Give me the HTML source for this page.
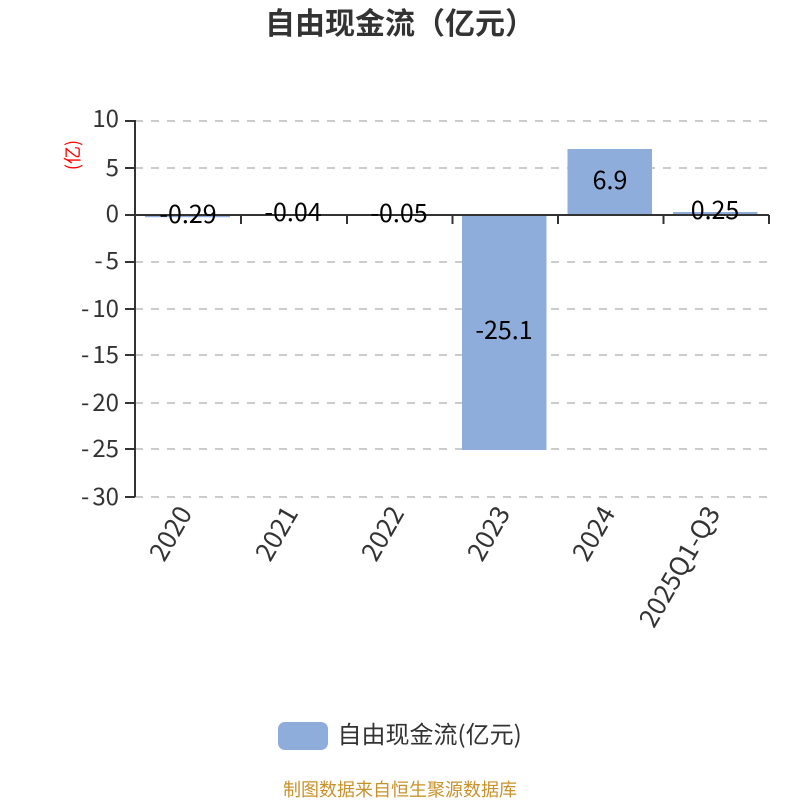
<!DOCTYPE html>
<html><head><meta charset="utf-8"><style>
html,body{margin:0;padding:0;background:#fff;width:800px;height:800px;overflow:hidden}
svg{display:block;font-family:"Noto Sans CJK SC",sans-serif}
</style></head><body>
<svg width="800" height="800" viewBox="0 0 800 800" xmlns="http://www.w3.org/2000/svg">
<text x="400" y="34" text-anchor="middle" font-size="30" font-weight="700" fill="#333">自由现金流（亿元）</text>
<g stroke="#ccc" stroke-width="2" stroke-dasharray="8 8" fill="none">
<path d="M135 121H769M135 168H769M135 262H769M135 309H769M135 355H769M135 403H769M135 449H769M135 497H769"/>
</g>
<g fill="#8eaddb">
<rect x="145" y="214.5" width="85" height="2.7"/>
<rect x="251" y="214" width="85" height="1"/>
<rect x="356.500" y="214" width="85" height="1"/>
<rect x="462" y="214.5" width="84.500" height="235.500"/>
<rect x="567.500" y="149" width="84.500" height="65.500"/>
<rect x="673" y="212" width="84.500" height="2.500"/>
</g>
<g stroke="#333" stroke-width="2" fill="none">
<path d="M135 120V497"/>
<path d="M125 121H135M125 168H135M125 215H135M125 262H135M125 309H135M125 355H135M125 403H135M125 449H135M125 497H135"/>
<path d="M135 215H769"/>
<path d="M241 215V224M347 215V224M452.500 215V224M558 215V224M663.500 215V224M769 215V224"/>
</g>
<g font-size="24" fill="#333" text-anchor="end">
<text x="119" y="127">10</text>
<text x="119" y="176">5</text>
<text x="119" y="222">0</text>
<text x="119" y="269">-<tspan dx="3">5</tspan></text>
<text x="119" y="317">-<tspan dx="3">10</tspan></text>
<text x="119" y="363">-<tspan dx="3">15</tspan></text>
<text x="119" y="411">-<tspan dx="3">20</tspan></text>
<text x="119" y="457">-<tspan dx="3">25</tspan></text>
<text x="119" y="505">-<tspan dx="3">30</tspan></text>
</g>
<text transform="translate(79,155) rotate(-90)" text-anchor="middle" font-size="18" fill="#f00">(亿)</text>
<g font-size="25" fill="#000" text-anchor="middle">
<text x="188" y="223">-0.29</text>
<text x="293" y="221">-0.04</text>
<text x="399" y="222">-0.05</text>
<text x="504" y="339">-25.1</text>
<text x="610" y="189">6.9</text>
<text x="715" y="219">0.25</text>
</g>
<g font-size="26" fill="#333" text-anchor="end">
<text transform="translate(193,513) rotate(-60)">2020</text>
<text transform="translate(299,513) rotate(-60)">2021</text>
<text transform="translate(405,513) rotate(-60)">2022</text>
<text transform="translate(511,513) rotate(-60)">2023</text>
<text transform="translate(616,513) rotate(-60)">2024</text>
<text transform="translate(721,513) rotate(-60)">2025Q1-Q3</text>
</g>
<rect x="278" y="722" width="50" height="28" rx="7" ry="7" fill="#8eaddb"/>
<text x="337.500" y="743" font-size="24" fill="#333">自由现金流(亿元)</text>
<text x="400" y="796" text-anchor="middle" font-size="18" fill="#c8922a">制图数据来自恒生聚源数据库</text>
</svg>
</body></html>
